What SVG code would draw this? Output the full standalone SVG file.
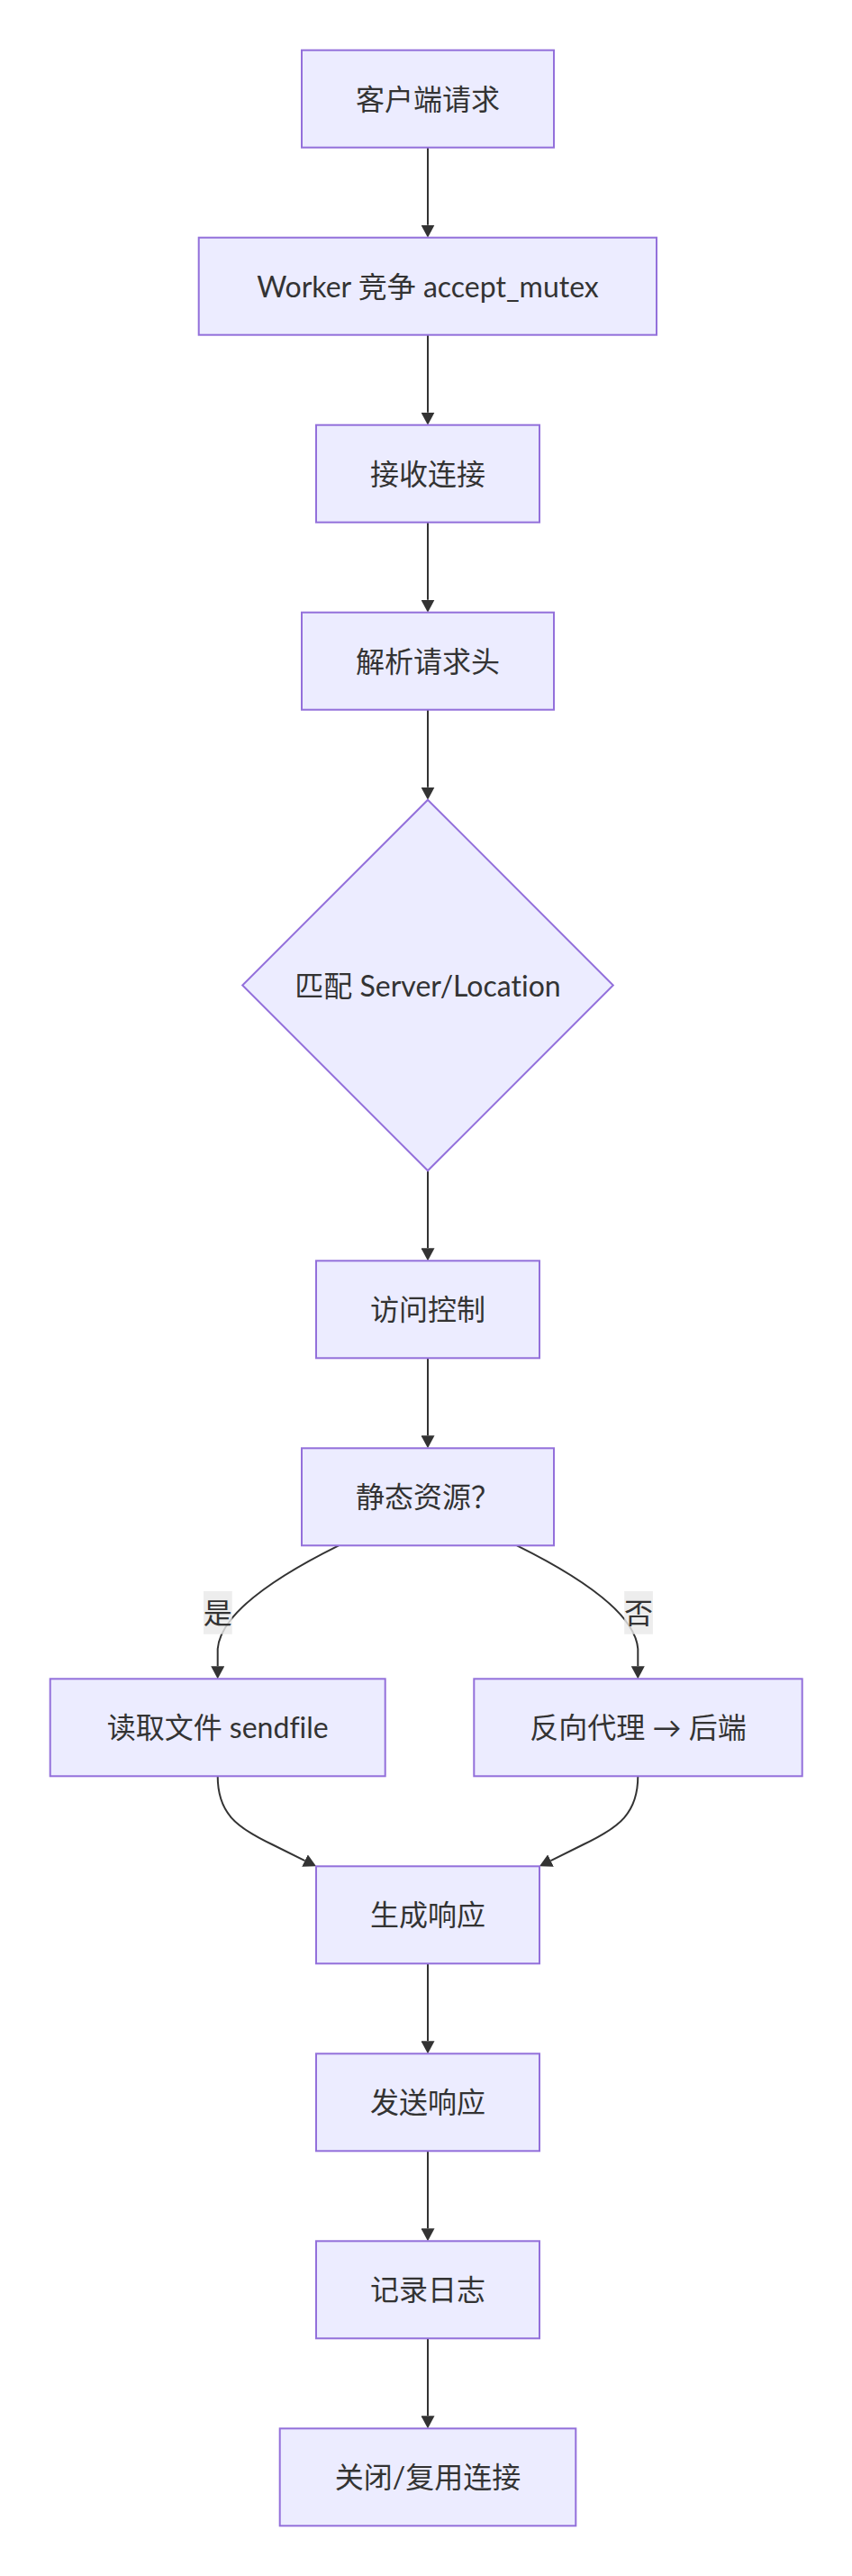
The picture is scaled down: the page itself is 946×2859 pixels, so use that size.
<svg xmlns="http://www.w3.org/2000/svg" width="946" height="2859" viewBox="0 0 946 2859">
<style>
.node rect,.node polygon{fill:#ECECFF;stroke:#9370DB;stroke-width:2}
.lbl{font-family:Lato,"Noto Sans CJK SC",sans-serif;font-size:32px;fill:#333333;text-anchor:middle;font-variant-ligatures:none}
.edge{fill:none;stroke:#333333;stroke-width:2}
.elbg{fill:#e8e8e8;fill-opacity:0.8}
</style>
<defs>
<marker id="arr" viewBox="0 0 10 10" refX="0" refY="5" markerUnits="userSpaceOnUse" markerWidth="14" markerHeight="15" orient="auto" preserveAspectRatio="none">
<path d="M0,0 L10,5 L0,10 z" fill="#333333"/>
</marker>
</defs>
<rect width="946" height="2859" fill="#ffffff"/>
<g id="connectors">
<path class="edge" d="M475,163.7 L475,249.7" marker-end="url(#arr)"/>
<path class="edge" d="M475,371.7 L475,457.7" marker-end="url(#arr)"/>
<path class="edge" d="M475,579.7 L475,665.7" marker-end="url(#arr)"/>
<path class="edge" d="M475,787.7 L475,873.7" marker-end="url(#arr)"/>
<path class="edge" d="M475,1299.3 L475,1385.3" marker-end="url(#arr)"/>
<path class="edge" d="M475,1507.3 L475,1593.3" marker-end="url(#arr)"/>
<path class="edge" d="M376,1715.3 C310,1748 245,1790 241.7,1830 L241.7,1849.3" marker-end="url(#arr)"/>
<path class="edge" d="M574,1715.3 C640,1748 705,1790 708.3,1830 L708.3,1849.3" marker-end="url(#arr)"/>
<path class="edge" d="M241.7,1971.3 C241.7,2012 262,2028 302,2047 L338.5,2065.1" marker-end="url(#arr)"/>
<path class="edge" d="M708.3,1971.3 C708.3,2012 688,2028 648,2047 L611.5,2065.1" marker-end="url(#arr)"/>
<path class="edge" d="M475,2179.3 L475,2265.3" marker-end="url(#arr)"/>
<path class="edge" d="M475,2387.3 L475,2473.3" marker-end="url(#arr)"/>
<path class="edge" d="M475,2595.3 L475,2681.3" marker-end="url(#arr)"/>
<g id="label-yes">
<rect class="elbg" x="226" y="1766" width="31.7" height="47.7"/>
<text class="lbl" x="241.85" y="1802">是</text>
</g>
<g id="label-no">
<rect class="elbg" x="693.2" y="1766" width="31.7" height="47.7"/>
<text class="lbl" x="709" y="1802">否</text>
</g>
</g>
<g id="n1" class="node"><rect x="335" y="55.7" width="280" height="108"/><text class="lbl" x="475" y="121.7">客户端请求</text></g>
<g id="n2" class="node"><rect x="220.7" y="263.7" width="508.3" height="108"/><text class="lbl" x="475" y="329.7">Worker 竞争 accept_mutex</text></g>
<g id="n3" class="node"><rect x="351" y="471.7" width="248" height="108"/><text class="lbl" x="475" y="537.7">接收连接</text></g>
<g id="n4" class="node"><rect x="335" y="679.7" width="280" height="108"/><text class="lbl" x="475" y="745.7">解析请求头</text></g>
<g id="n5" class="node"><polygon points="475,887.7 680.8,1093.5 475,1299.3 269.2,1093.5"/><text class="lbl" x="475" y="1105.5">匹配 Server/Location</text></g>
<g id="n6" class="node"><rect x="351" y="1399.3" width="248" height="108"/><text class="lbl" x="475" y="1465.3">访问控制</text></g>
<g id="n7" class="node"><rect x="335" y="1607.3" width="280" height="108"/><text class="lbl" x="475" y="1673.3">静态资源？</text></g>
<g id="n8" class="node"><rect x="55.7" y="1863.3" width="372" height="108"/><text class="lbl" x="241.7" y="1929.3">读取文件 sendfile</text></g>
<g id="n9" class="node"><rect x="526.3" y="1863.3" width="364.4" height="108"/><text class="lbl" x="708.5" y="1929.3">反向代理 → 后端</text></g>
<g id="n10" class="node"><rect x="351" y="2071.3" width="248" height="108"/><text class="lbl" x="475" y="2137.3">生成响应</text></g>
<g id="n11" class="node"><rect x="351" y="2279.3" width="248" height="108"/><text class="lbl" x="475" y="2345.3">发送响应</text></g>
<g id="n12" class="node"><rect x="351" y="2487.3" width="248" height="108"/><text class="lbl" x="475" y="2553.3">记录日志</text></g>
<g id="n13" class="node"><rect x="310.7" y="2695.3" width="328.6" height="108"/><text class="lbl" x="475" y="2761.3">关闭/复用连接</text></g>
</svg>
